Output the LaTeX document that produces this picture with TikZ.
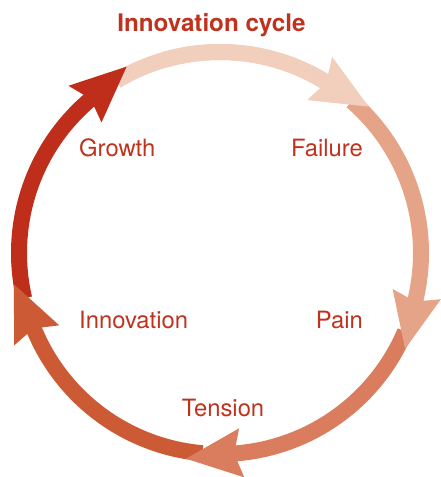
\documentclass[tikz,border=0pt]{standalone}
\usepackage{fontspec}
\setmainfont{TeX Gyre Heros}
\usetikzlibrary{arrows.meta}
\definecolor{cA}{HTML}{F2CFBC}
\definecolor{cB}{HTML}{E5A487}
\definecolor{cC}{HTML}{D97D5E}
\definecolor{cD}{HTML}{CB5A35}
\definecolor{cE}{HTML}{BF2E1B}
\definecolor{txt}{HTML}{C0321E}
\tikzset{
  seg/.style={line width=16pt, -{Stealth[length=55pt,width=46pt,inset=6pt]}},
  lbl/.style={inner sep=0pt, text=txt, font=\fontsize{23.8}{28}\selectfont},
  ttl/.style={inner sep=0pt, text=txt, font=\fontsize{24.2}{28}\selectfont\bfseries}
}
% #1 colour, #2 start angle, #3 end angle (head base)
\newcommand\cycseg[3]{%
  \draw[seg, color=#1] (ctr) ++(#2:201) arc[start angle=#2, end angle=#3, radius=201]
     -- ++({56*sin(#3)},{-56*cos(#3)});}
\begin{document}
\begin{tikzpicture}[x=1pt,y=1pt]
\useasboundingbox (0,0) rectangle (440,477);
\coordinate (ctr) at (220,224);
\cycseg{cA}{121}{60}
\cycseg{cE}{-167}{-228}
\cycseg{cD}{-95}{-156}
\cycseg{cC}{-23}{-84}
\cycseg{cB}{49}{-12}
\cycseg{cA}{106}{60}
\node[ttl, anchor=base] (title) at (211.5,445.3) {Innovation cycle};
\node[lbl, anchor=base west] (growth) at (79,320) {Growth};
\node[lbl, anchor=base east] (failure) at (363,320) {Failure};
\node[lbl, anchor=base west] (innov) at (79,148) {Innovation};
\node[lbl, anchor=base east] (pain) at (363,148) {Pain};
\node[lbl, anchor=base] (tension) at (223,60) {Tension};
\end{tikzpicture}
\end{document}
